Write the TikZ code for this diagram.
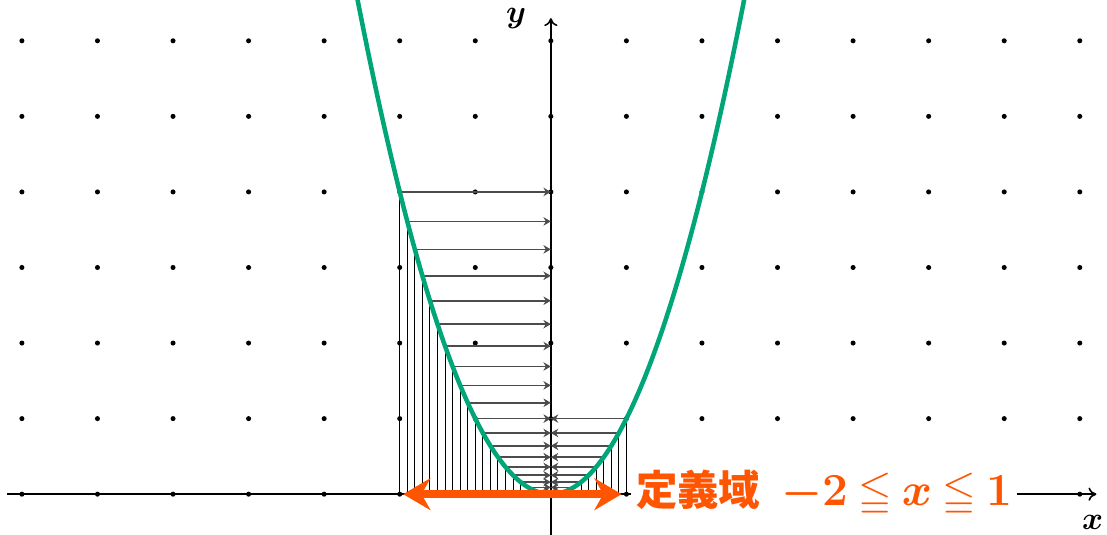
\documentclass[tikz,border=0pt]{standalone}
\usepackage{amsmath,amssymb}
\usepackage{fontspec}
\newfontfamily\jpfont{Noto Sans CJK JP}
\usetikzlibrary{arrows.meta}
\definecolor{curvegreen}{RGB}{0,166,120}
\definecolor{domorange}{RGB}{255,85,0}

\begin{document}
\begin{tikzpicture}[
    gridpt/.style={fill=black},
    axis/.style={-{To[length=3pt,width=5pt]}, line width=0.6pt},
    riser/.style={line width=0.4pt, black},
    proj/.style={-{Stealth[length=2.8pt,width=3.2pt]}, line width=0.6pt, black!70},
    parab/.style={curvegreen, line width=1.7pt},
    domarrow/.style={{Stealth[length=0.36cm,width=0.42cm]}-{Stealth[length=0.36cm,width=0.42cm]}, domorange, line width=3pt},
    axislabel/.style={font=\large, inner sep=0pt},
  ]
  \useasboundingbox (-7.29,-0.53) rectangle (7.36,6.54);
  \clip (-7.29,-0.53) rectangle (7.36,6.54);

  % Dot grid
  \foreach \i in {-7,...,7}
    \foreach \j in {0,...,6}
      \fill[gridpt] (\i,\j) circle (0.95pt);

  % Axes
  \coordinate (xstart) at (-7.2,0);
  \coordinate (xend)   at (7.22,0);
  \coordinate (ystart) at (0,-0.6);
  \coordinate (yend)   at (0,6.3);
  \draw[axis] (xstart) -- (xend);
  \draw[axis] (ystart) -- (yend);
  \node[axislabel] (xlab) at (7.17,-0.37) {$\boldsymbol{x}$};
  \node[axislabel] (ylab) at (-0.46,6.30) {$\boldsymbol{y}$};

  % Risers and projections onto the y-axis
  \foreach \k [evaluate=\k as \xx using \k/10] in {-20,...,10} {
    \draw[riser] (\xx,0) -- (\xx,{(\xx)^2});
    \ifnum\k=0\else
      \draw[proj] (\xx,{(\xx)^2}) -- (0,{(\xx)^2});
    \fi
  }

  % Parabola
  \draw[parab, domain=-2.6:2.6, samples=120] plot (\x,{\x*\x});

  % Domain
  \coordinate (dleft)  at (-2,0);
  \coordinate (dright) at (1,0);
  \draw[domarrow, shorten <=1.3pt, shorten >=1.8pt] (dleft) -- (dright);
  \node[fill=white, anchor=west, inner sep=2pt, text=domorange,
        font=\fontsize{15.6}{19}\selectfont] (dom) at (1.05,0.01)
    {\jpfont\bfseries 定義域\hspace{0.5em}{\boldmath\fontsize{16.2}{19}\selectfont\thickmuskip=3.5mu$-2\leqq x\leqq 1$}};
\end{tikzpicture}
\end{document}
